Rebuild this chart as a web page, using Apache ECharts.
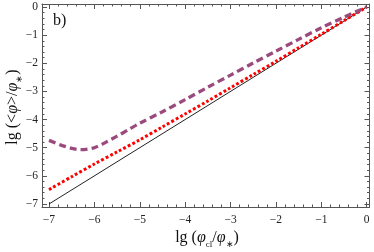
<!DOCTYPE html>
<html>
<head>
<meta charset="utf-8">
<script src="https://cdn.jsdelivr.net/npm/echarts@6/dist/echarts.min.js"></script>
<style>html,body{margin:0;padding:0;background:#fff}#c{width:374px;height:252px}</style>
</head>
<body>
<div id="c"></div>
<script>
// Data
var xMajorTicks = [-7, -6, -5, -4, -3, -2, -1, 0];
var yMajorTicks = [-7, -6, -5, -4, -3, -2, -1, 0];

var refX = [-7, 0];
var refY = [-7, 0];

var redX = [-7, -6.5, -6, -5.5, -5, -4.5, -4, -3.5, -3, -2.5, -2, -1.5, -1, -0.5, 0];
var redY = [-6.49, -6.03, -5.58, -5.15, -4.72, -4.26, -3.80, -3.34, -2.87, -2.40, -1.93, -1.45, -0.97, -0.485, 0];

var purX = [-7, -6.75, -6.5, -6.3, -6, -5.75, -5.5, -5.25, -5, -4.5, -4, -3.5, -3, -2.5, -2, -1.5, -1, -0.5, 0];
var purY = [-4.74, -4.90, -5.02, -5.07, -5.00, -4.81, -4.59, -4.36, -4.13, -3.72, -3.29, -2.85, -2.42, -1.99, -1.57, -1.15, -0.74, -0.36, 0];

function pairs(xs, ys) { return xs.map(function (x, i) { return [x, ys[i]]; }); }
function minorTicks(lo, hi, step) {
  var out = [];
  for (var v = lo; v <= hi + 1e-9; v += step) out.push(Math.round(v * 100) / 100);
  return out;
}
var xMinor = minorTicks(-7, 0, 0.2);
var yMinor = minorTicks(-7, 0, 0.2);

var XMIN = -7.154, XMAX = 0.062, YMIN = -7.107, YMAX = 0.107;
var FRAME = '#555';
var FONT = 'Liberation Serif';
function fmt(v) { return v < 0 ? '\u2212' + Math.abs(v) : String(v); }

function xAx(pos, major, withLabel, showLine) {
  return {
    type: 'value', position: pos, min: XMIN, max: XMAX,
    axisLine: { show: showLine, onZero: false, lineStyle: { color: FRAME, width: 1 } },
    axisTick: { show: true, inside: true, length: major ? 5 : 2.5,
      customValues: major ? xMajorTicks : xMinor, lineStyle: { color: FRAME, width: 1 } },
    axisLabel: withLabel ? { show: true, customValues: xMajorTicks, formatter: fmt,
      fontFamily: FONT, fontSize: 11.5, color: '#222', margin: 7 } : { show: false },
    splitLine: { show: false }
  };
}
function yAx(pos, major, withLabel, showLine) {
  return {
    type: 'value', position: pos, min: YMIN, max: YMAX,
    axisLine: { show: showLine, onZero: false, lineStyle: { color: FRAME, width: 1 } },
    axisTick: { show: true, inside: true, length: major ? 5 : 2.5,
      customValues: major ? yMajorTicks : yMinor, lineStyle: { color: FRAME, width: 1 } },
    axisLabel: withLabel ? { show: true, customValues: yMajorTicks, formatter: fmt,
      fontFamily: FONT, fontSize: 11.5, color: '#222', margin: 4 } : { show: false },
    splitLine: { show: false }
  };
}

var xs = [xAx('bottom', true, true, true), xAx('bottom', false, false, false),
          xAx('top', true, false, true), xAx('top', false, false, false)];
var ys = [yAx('left', true, true, true), yAx('left', false, false, false),
          yAx('right', true, false, true), yAx('right', false, false, false)];

var chart = echarts.init(document.getElementById('c'), null, { renderer: 'canvas' });
chart.setOption({
  animation: false,
  backgroundColor: '#fff',
  grid: { left: 42, right: 4.5, top: 4, bottom: 45, containLabel: false },
  xAxis: xs,
  yAxis: ys,
  series: [
    { type: 'line', data: pairs(refX, refY), showSymbol: false, symbol: 'none',
      lineStyle: { color: '#222', width: 1 }, z: 3 },
    { type: 'line', data: pairs(redX, redY), showSymbol: false, symbol: 'none', smooth: 0.3,
      lineStyle: { color: '#ff0000', width: 3, type: [2.8, 2.2] }, z: 4 },
    { type: 'line', data: pairs(purX, purY), showSymbol: false, symbol: 'none', smooth: 0.3,
      lineStyle: { color: '#9b4a7e', width: 3.3, type: [7, 4] }, z: 5 }
  ],
  graphic: [
    { type: 'text', left: 53, top: 13,
      style: { text: 'b)', font: '16px "Liberation Serif"', fill: '#111' } },
    { type: 'text', x: 207, y: 238,
      style: {
        text: '{n|lg (}{i|φ}{s|cl}{n|/}{i|φ}{s|∗}{n|)}',
        align: 'center', verticalAlign: 'middle',
        rich: {
          n: { fontFamily: FONT, fontSize: 16, fill: '#111', lineHeight: 22, verticalAlign: 'middle' },
          i: { fontFamily: FONT, fontSize: 16, fontStyle: 'italic', fill: '#111', lineHeight: 22, verticalAlign: 'middle' },
          s: { fontFamily: FONT, fontSize: 9, fill: '#111', lineHeight: 9, verticalAlign: 'bottom' }
        }
      } },
    { type: 'text', x: 13, y: 107, rotation: Math.PI / 2,
      style: {
        text: '{n|lg (<}{i|φ}{n|>/}{i|φ}{s|∗}{n|)}',
        align: 'center', verticalAlign: 'middle',
        rich: {
          n: { fontFamily: FONT, fontSize: 16, fill: '#111', lineHeight: 22, verticalAlign: 'middle' },
          i: { fontFamily: FONT, fontSize: 16, fontStyle: 'italic', fill: '#111', lineHeight: 22, verticalAlign: 'middle' },
          s: { fontFamily: FONT, fontSize: 9, fill: '#111', lineHeight: 9, verticalAlign: 'bottom' }
        }
      } }
  ]
});
</script>
</body>
</html>
